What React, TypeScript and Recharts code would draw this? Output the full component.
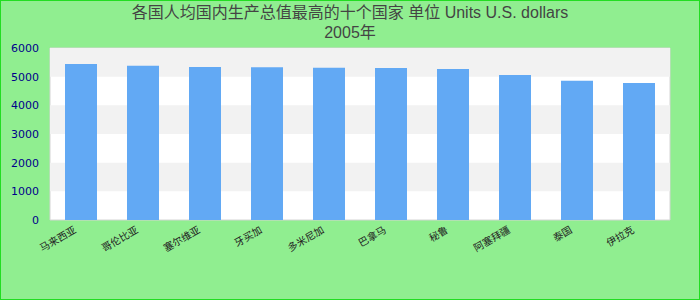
import { BarChart, Bar, XAxis, YAxis, ReferenceArea } from "recharts";

const countries = ["马来西亚", "哥伦比亚", "塞尔维亚", "牙买加", "多米尼加", "巴拿马", "秘鲁", "阿塞拜疆", "泰国", "伊拉克"];
const values = [5440, 5380, 5340, 5330, 5310, 5300, 5270, 5060, 4860, 4780];
const yTicks = [0, 1000, 2000, 3000, 4000, 5000, 6000];
const shadedBands = [
  [1000, 2000],
  [3000, 4000],
  [5000, 6000],
];
const titleLine1 = "各国人均国内生产总值最高的十个国家 单位 Units U.S. dollars";
const titleLine2 = "2005年";

const data = countries.map((name, i) => ({ name, value: values[i] }));

const CountryTick = ({ x, y, payload }: any) => (
  <text
    x={x - 4}
    y={y + 4}
    transform={`rotate(-30, ${x - 4}, ${y + 4})`}
    textAnchor="end"
    fontSize={10}
    fill="#222"
    fontFamily="'Noto Sans CJK SC', sans-serif"
  >
    {payload.value}
  </text>
);

export default function App() {
  return (
    <div
      style={{
        position: "relative",
        width: 700,
        height: 300,
        boxSizing: "border-box",
        border: "1px solid #22dd22",
        background: "#90ee90",
        overflow: "hidden",
      }}
    >
      <style>{`body { margin: 0; }`}</style>
      <div
        style={{
          position: "absolute",
          top: 2,
          left: 0,
          width: "100%",
          textAlign: "center",
          fontFamily: "'Liberation Sans', 'Noto Sans CJK SC', sans-serif",
          fontSize: 16,
          lineHeight: "20px",
          color: "#444",
        }}
      >
        <div>{titleLine1}</div>
        <div>{titleLine2}</div>
      </div>
      <div style={{ position: "absolute", top: -1, left: -1 }}>
        <BarChart width={700} height={300} data={data} margin={{ top: 48, right: 30, bottom: 20, left: 0 }}>
          <ReferenceArea y1={0} y2={6000} fill="#fff" fillOpacity={1} stroke="#d4d4d4" strokeWidth={1} ifOverflow="extendDomain" />
          {shadedBands.map(([a, b]) => (
            <ReferenceArea key={a} y1={a} y2={b} fill="#f2f2f2" fillOpacity={1} stroke="none" />
          ))}
          <XAxis dataKey="name" axisLine={false} tickLine={false} height={60} interval={0} tick={<CountryTick />} />
          <YAxis
            domain={[0, 6000]}
            ticks={yTicks}
            width={50}
            axisLine={false}
            tickLine={false}
            tickSize={0}
            tickMargin={11}
            tick={{ fontSize: 11, fill: "#00008b", fontFamily: "'DejaVu Sans', sans-serif" }}
          />
          <Bar dataKey="value" fill="#62a9f4" barSize={32} isAnimationActive={false} />
        </BarChart>
      </div>
    </div>
  );
}
